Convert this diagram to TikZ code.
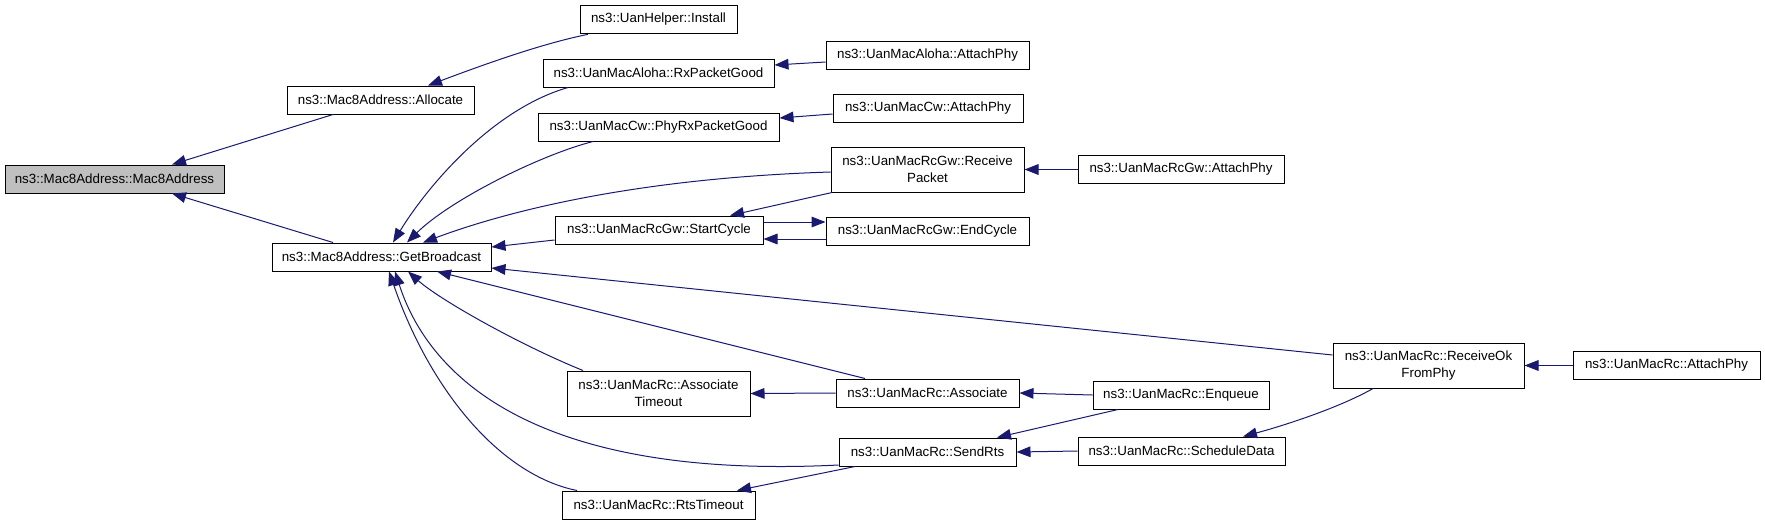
\documentclass[tikz,border=0pt]{standalone}
\usepackage{fontspec}
\setmainfont{Liberation Sans}
\usetikzlibrary{arrows.meta,calc}
\definecolor{edgeblue}{HTML}{191970}
\definecolor{hlgrey}{HTML}{BFBFBF}
\begin{document}
\begin{tikzpicture}[x=0.75pt,y=-0.75pt,
  box/.style={draw=black, line width=0.75pt, fill=white, inner sep=0pt,
    font=\fontsize{10}{12.5}\selectfont, align=center, minimum height=21pt},
  twoline/.style={minimum height=33.75pt},
  hl/.style={fill=hlgrey},
  edge/.style={draw=edgeblue, line width=0.75pt,
    {Triangle[length=10.5pt,width=8pt,fill=edgeblue]}-}]
\useasboundingbox (0,0) rectangle (1765,525);
% nodes
\node[box,hl,minimum width=164.25pt] (mac) at (114.5,179) {ns3::Mac8Address::Mac8Address};
\node[box,minimum width=140.25pt] (alloc) at (380.5,100) {ns3::Mac8Address::Allocate};
\node[box,minimum width=164.25pt] (getb) at (381.5,257) {ns3::Mac8Address::GetBroadcast};
\node[box,minimum width=117.75pt,minimum height=21.5pt] (install) at (658.5,19.5) {ns3::UanHelper::Install};
\node[box,minimum width=173.25pt] (rxgood) at (658.5,73) {ns3::UanMacAloha::RxPacketGood};
\node[box,minimum width=180.75pt] (phyrx) at (658.5,127) {ns3::UanMacCw::PhyRxPacketGood};
\node[box,minimum width=156pt] (startc) at (659,230) {ns3::UanMacRcGw::StartCycle};
\node[box,twoline,minimum width=137.25pt] (assoct) at (658.5,393.5) {ns3::UanMacRc::Associate\\Timeout};
\node[box,minimum width=144.75pt] (rtst) at (658.5,505) {ns3::UanMacRc::RtsTimeout};
\node[box,minimum width=152.25pt] (alohaat) at (927.5,55) {ns3::UanMacAloha::AttachPhy};
\node[box,minimum width=142.5pt] (cwat) at (928,108) {ns3::UanMacCw::AttachPhy};
\node[box,twoline,minimum width=144.75pt] (recvpkt) at (927.5,169.5) {ns3::UanMacRcGw::Receive\\Packet};
\node[box,minimum width=152.25pt] (endc) at (927.5,231) {ns3::UanMacRcGw::EndCycle};
\node[box,minimum width=137.25pt] (assoc) at (927.5,393) {ns3::UanMacRc::Associate};
\node[box,minimum width=132.75pt] (sendrts) at (927.5,452) {ns3::UanMacRc::SendRts};
\node[box,minimum width=154.5pt,minimum height=20.5pt] (gwat) at (1181,169.5) {ns3::UanMacRcGw::AttachPhy};
\node[box,minimum width=132pt] (enq) at (1181,395) {ns3::UanMacRc::Enqueue};
\node[box,minimum width=155.25pt] (sched) at (1181.5,451) {ns3::UanMacRc::ScheduleData};
\node[box,twoline,minimum width=143.25pt] (recvok) at (1428.5,365.5) {ns3::UanMacRc::ReceiveOk\\FromPhy};
\node[box,minimum width=140.25pt,minimum height=20.5pt] (rcat) at (1666.5,365.5) {ns3::UanMacRc::AttachPhy};
% edges
\draw[edge] ($(mac.north)+(57.5,0)$) -- ($(alloc.south)+(-47.5,0)$);
\draw[edge] ($(mac.south)+(57.5,0)$) -- ($(getb.north)+(-48.5,0)$);
\draw[edge] ($(alloc.north)+(47.5,0)$) .. controls (480,66) and (540,44) .. ($(install.south)+(-70.5,0)$);
\draw[edge] ($(getb.north)+(11.5,0)$) .. controls (425,190) and (490,110) .. ($(rxgood.south)+(-90.5,0)$);
\draw[edge] ($(getb.north)+(25.5,0)$) .. controls (450,200) and (540,155) .. ($(phyrx.south)+(-65.5,0)$);
\draw[edge] ($(getb.north)+(41.5,0)$) .. controls (510,210) and (640,178) .. ($(recvpkt.west)+(0,2.5)$);
\draw[edge] ($(getb.east)+(0,-10)$) -- ($(startc.west)+(0,10)$);
\draw[edge] ($(getb.east)+(0,11)$) -- ($(recvok.west)+(0,-10.5)$);
\draw[edge] ($(getb.south)+(55.5,0)$) -- ($(assoc.north)+(-62.5,0)$);
\draw[edge] ($(getb.south)+(26.5,0)$) .. controls (440,300) and (520,345) .. ($(assoct.north)+(-75.5,0)$);
\draw[edge] ($(getb.south)+(13.5,0)$) .. controls (430,380) and (540,480) .. ($(sendrts.west)+(0,13)$);
\draw[edge] ($(getb.south)+(7.5,0)$) .. controls (430,390) and (500,475) .. ($(rtst.north)+(-81.5,0)$);
\draw[edge] ($(rxgood.east)+(0,-8)$) -- ($(alohaat.west)+(0,7)$);
\draw[edge] ($(phyrx.east)+(0,-9)$) -- ($(cwat.west)+(0,6)$);
\draw[edge] ($(startc.north)+(71,0)$) -- ($(recvpkt.south)+(-95.5,0)$);
\draw[edge] ($(endc.west)+(0,-9)$) -- ($(startc.east)+(0,-8)$);
\draw[edge] ($(startc.east)+(0,9)$) -- ($(endc.west)+(0,8)$);
\draw[edge] (recvpkt.east) -- (gwat.west);
\draw[edge] (assoct.east) -- (assoc.west);
\draw[edge] (assoc.east) -- (enq.west);
\draw[edge] ($(sendrts.north)+(69.5,0)$) -- ($(enq.south)+(-63,0)$);
\draw[edge] (sendrts.east) -- (sched.west);
\draw[edge] ($(rtst.north)+(78.5,0)$) -- ($(sendrts.south)+(-72.5,0)$);
\draw[edge] ($(sched.north)+(61.5,0)$) .. controls (1275,428) and (1335,410) .. ($(recvok.south)+(-55.5,0)$);
\draw[edge] (recvok.east) -- (rcat.west);
\end{tikzpicture}
\end{document}
